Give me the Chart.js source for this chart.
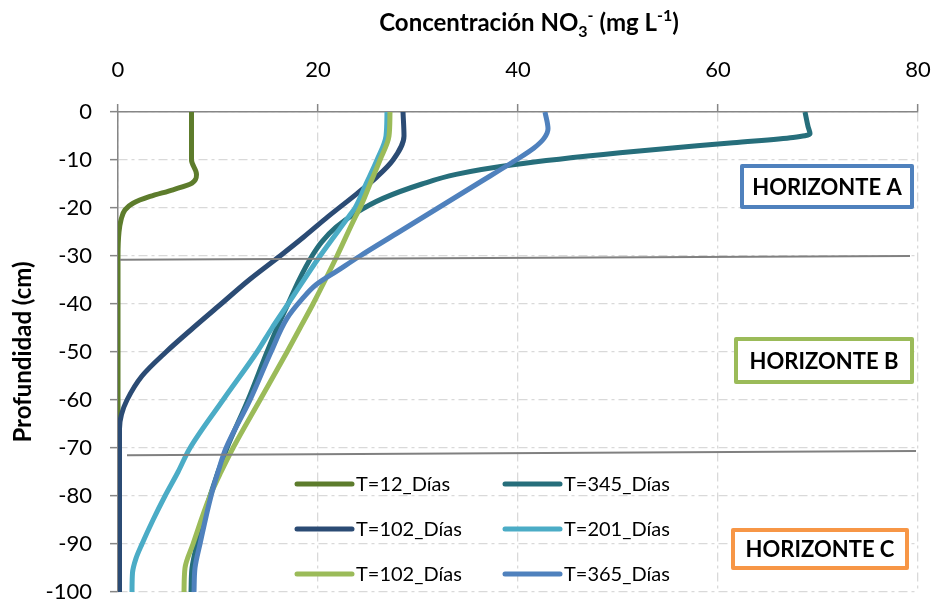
<!DOCTYPE html>
<html>
<head>
<meta charset="utf-8">
<script src="https://cdn.jsdelivr.net/npm/chart.js@4.4.1/dist/chart.umd.min.js"></script>
<style>
  html, body { margin: 0; padding: 0; background: #ffffff; }
  canvas { display: block; }
</style>
</head>
<body>
<canvas id="perfil" width="936" height="603"></canvas>
<script>
// Perfiles de nitrato en el suelo: profundidad (cm) frente a concentración (mg L-1)
const FONT = 'Lato, "Open Sans", sans-serif';

const seriesNames = ['T=12_Días', 'T=345_Días', 'T=102_Días', 'T=201_Días', 'T=102_Días', 'T=365_Días'];
const seriesColors = ['#5d7c2c', '#266e7b', '#2b4b74', '#4bacc6', '#9bbb59', '#4f81bd'];

const depth12 = [0, -10, -13, -14.8, -16.2, -17.6, -19, -20.4, -22.5, -25, -30, -100];
const conc12  = [7.35, 7.35, 7.85, 7.4, 5.5, 3.2, 1.5, 0.7, 0.3, 0.1, 0, 0];

const depth345 = [0, -3, -4.6, -5.3, -6.4, -8.5, -11, -13, -15, -18, -21, -24, -27, -30, -35, -40, -45, -50, -60, -70, -80, -90, -95, -100];
const conc345  = [68.7, 69.0, 69.2, 67.5, 61.5, 50.2, 39.5, 33.8, 30.4, 26.5, 23.8, 21.8, 20.4, 19.4, 18.1, 17.0, 15.9, 14.9, 13.0, 10.9, 9.2, 7.9, 7.4, 7.3];

const depth102 = [0, -5, -10, -13.5, -17, -21.8, -26, -30, -35, -40, -45, -50, -55, -60, -63, -66, -100];
const conc102  = [28.5, 28.6, 27.5, 25.9, 23.9, 21.0, 18.6, 16.2, 13.1, 10.3, 7.5, 4.8, 2.4, 0.9, 0.35, 0.15, 0.15];

const depth201 = [0, -5, -10, -15, -20, -22, -30, -40, -45, -50, -60, -70, -75, -80, -85, -90, -93, -96, -100];
const conc201  = [26.9, 26.8, 25.9, 24.8, 23.7, 23.0, 20.2, 17.0, 15.4, 13.9, 10.5, 7.2, 6.0, 4.7, 3.5, 2.4, 1.8, 1.45, 1.4];

const depth102b = [0, -5, -10, -15, -20, -22, -30, -40, -45, -50, -60, -70, -75, -80, -90, -95, -100];
const conc102b  = [27.2, 27.1, 26.2, 25.2, 24.2, 23.7, 21.9, 19.5, 18.2, 16.9, 14.2, 11.5, 10.3, 9.2, 7.5, 6.7, 6.6];

const depth365 = [0, -3.5, -5.5, -7.5, -10, -15, -20, -25, -30, -33, -36, -39, -43, -50, -60, -70, -75, -80, -90, -95, -100];
const conc365  = [42.7, 43.0, 42.6, 41.6, 39.8, 35.9, 32.0, 28.1, 24.2, 22.0, 19.8, 18.4, 16.9, 15.3, 13.2, 10.8, 10.0, 9.3, 8.2, 7.7, 7.6];

// Límites entre horizontes del suelo
const boundaryX = [0.2, 79.2];
const boundaryAB = [-30.8, -30.0];
const boundaryX2 = [0.9, 79.8];
const boundaryBC = [-71.5, -70.6];

const xTicks = [0, 20, 40, 60, 80];
const yTicks = [0, -10, -20, -30, -40, -50, -60, -70, -80, -90, -100];

const horizonNames = ['HORIZONTE A', 'HORIZONTE B', 'HORIZONTE C'];
const horizonColors = ['#4f81bd', '#9bbb59', '#f79646'];

const pairs = (xs, ys) => xs.map((x, i) => ({ x, y: ys[i] }));

const profiles = [
  [conc12, depth12], [conc345, depth345], [conc102, depth102],
  [conc201, depth201], [conc102b, depth102b], [conc365, depth365]
];

const datasets = profiles.map(([c, d], i) => ({
  label: seriesNames[i],
  data: pairs(c, d),
  borderColor: seriesColors[i],
  backgroundColor: seriesColors[i],
  borderWidth: 5,
  pointRadius: 0,
  showLine: true,
  cubicInterpolationMode: 'monotone',
  borderCapStyle: 'butt',
  borderJoinStyle: 'round',
  order: 10 - i,
  isProfile: true
}));

[[boundaryX, boundaryAB], [boundaryX2, boundaryBC]].forEach(([xs, ys]) => {
  datasets.push({
    label: '',
    data: pairs(xs, ys),
    borderColor: '#808080',
    borderWidth: 2,
    pointRadius: 0,
    showLine: true,
    tension: 0,
    order: 0,
    isProfile: false
  });
});

// Títulos de ejes, leyenda y etiquetas de horizontes
const annotations = {
  id: 'annotations',
  afterDraw(chart) {
    const ctx = chart.ctx;
    ctx.save();

    // Título superior con subíndice y superíndices
    const big = 'bold 24px ' + FONT;
    const small = 'bold 16px ' + FONT;
    const parts = [
      { t: 'Concentración NO', f: big, dy: 0 },
      { t: '3', f: small, dy: 6 },
      { t: '-', f: small, dy: -10 },
      { t: ' (mg L', f: big, dy: 0 },
      { t: '-1', f: small, dy: -10 },
      { t: ')', f: big, dy: 0 }
    ];
    let total = 0;
    parts.forEach(p => { ctx.font = p.f; p.w = ctx.measureText(p.t).width; total += p.w; });
    let x = 529 - total / 2;
    const base = 31;
    ctx.fillStyle = '#000';
    ctx.textBaseline = 'alphabetic';
    ctx.textAlign = 'left';
    parts.forEach(p => {
      ctx.font = p.f;
      ctx.fillText(p.t, x, base + p.dy);
      x += p.w;
    });

    // Título del eje vertical
    ctx.save();
    ctx.translate(23, 352);
    ctx.rotate(-Math.PI / 2);
    ctx.font = 'bold 24px ' + FONT;
    ctx.textAlign = 'center';
    ctx.textBaseline = 'middle';
    ctx.fillText('Profundidad (cm)', 0, 0);
    ctx.restore();

    // Leyenda en dos columnas
    const cols = [297, 505];
    const rows = [484, 529, 574];
    const items = chart.data.datasets.filter(d => d.isProfile);
    ctx.font = '20px ' + FONT;
    ctx.textBaseline = 'middle';
    ctx.textAlign = 'left';
    items.forEach((d, i) => {
      const cx = cols[i % 2];
      const cy = rows[Math.floor(i / 2)];
      ctx.strokeStyle = d.borderColor;
      ctx.lineWidth = 5;
      ctx.lineCap = 'round';
      ctx.beginPath();
      ctx.moveTo(cx, cy);
      ctx.lineTo(cx + 55, cy);
      ctx.stroke();
      ctx.fillStyle = '#000';
      ctx.fillText(d.label, cx + 59, cy + 1);
    });

    // Cajas de horizontes
    const boxes = [
      { x1: 742, y1: 166, x2: 912, y2: 207 },
      { x1: 736, y1: 339, x2: 912, y2: 382 },
      { x1: 733, y1: 530, x2: 907, y2: 568 }
    ];
    boxes.forEach((b, i) => {
      ctx.fillStyle = '#fff';
      ctx.fillRect(b.x1, b.y1, b.x2 - b.x1, b.y2 - b.y1);
      ctx.strokeStyle = horizonColors[i];
      ctx.lineWidth = 4;
      ctx.lineJoin = 'round';
      ctx.strokeRect(b.x1, b.y1, b.x2 - b.x1, b.y2 - b.y1);
      ctx.fillStyle = '#000';
      ctx.font = 'bold 22px ' + FONT;
      ctx.textAlign = 'center';
      ctx.textBaseline = 'middle';
      ctx.fillText(horizonNames[i], (b.x1 + b.x2) / 2, (b.y1 + b.y2) / 2 + 1);
    });

    ctx.restore();
  }
};

const gridLook = {
  color: '#d9d9d9',
  lineWidth: 1.3,
  tickColor: '#868686',
  tickLength: 8,
  tickWidth: 1.5
};
const borderLook = { color: '#868686', width: 1.5, dash: [9, 4, 3, 4] };

const noOverflow = s => { s.paddingLeft = 0; s.paddingRight = 0; s.paddingTop = 0; s.paddingBottom = 0; };

new Chart(document.getElementById('perfil'), {
  type: 'scatter',
  data: { datasets },
  options: {
    responsive: false,
    animation: false,
    devicePixelRatio: 1,
    indexAxis: 'y',
    layout: { padding: { left: 0, top: 0, right: 18, bottom: 11 } },
    plugins: { legend: { display: false }, tooltip: { enabled: false }, title: { display: false } },
    scales: {
      x: {
        type: 'linear',
        position: 'top',
        min: 0, max: 80,
        afterBuildTicks: s => { s.ticks = xTicks.map(v => ({ value: v })); },
        afterFit: s => { s.height = 112; noOverflow(s); },
        ticks: { color: '#000', padding: 23, font: { family: FONT, size: 22, lineHeight: 1 } },
        grid: gridLook,
        border: borderLook
      },
      y: {
        type: 'linear',
        position: 'left',
        min: -100, max: 0,
        afterBuildTicks: s => { s.ticks = yTicks.map(v => ({ value: v })); },
        afterFit: s => { s.width = 118; noOverflow(s); },
        ticks: { color: '#000', padding: 18, font: { family: FONT, size: 22, lineHeight: 1 } },
        grid: gridLook,
        border: borderLook
      }
    }
  },
  plugins: [annotations]
});
</script>
</body>
</html>
